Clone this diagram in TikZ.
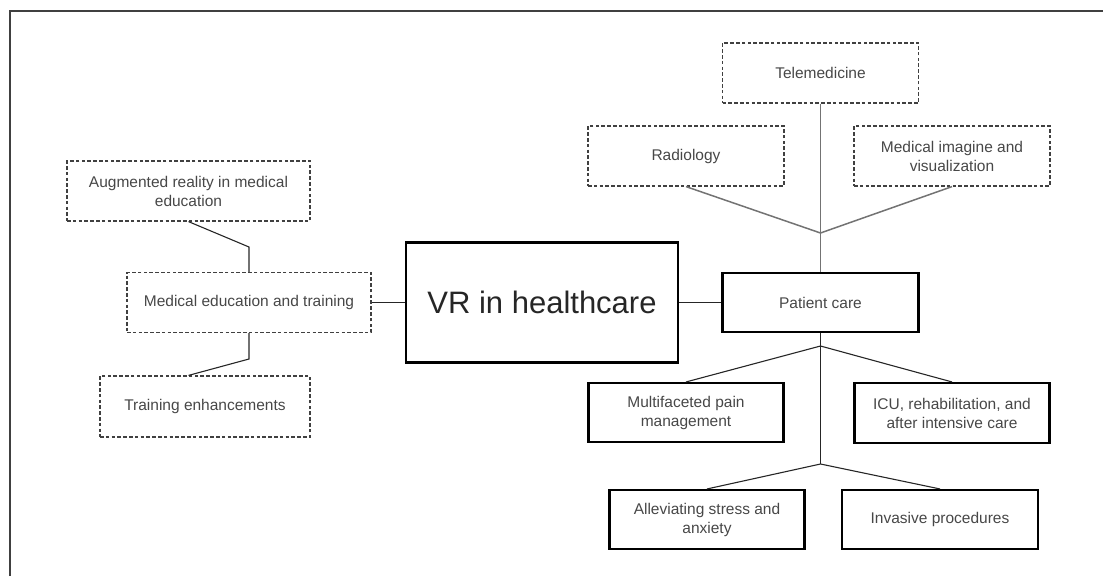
\documentclass[tikz,border=0pt]{standalone}
\usepackage{fontspec}
\setmainfont{Liberation Sans}
\usetikzlibrary{calc}
\tikzset{
  base/.style={rectangle, align=center, text=black!72, inner sep=2pt,
    font=\fontsize{15.5}{19}\selectfont},
  dbox/.style={base, draw=black!75, line width=1.2pt, dash pattern=on 3.6pt off 2.2pt},
  sbox/.style={base, draw=black, line width=2.1pt},
  conn/.style={draw=black!85, line width=1.1pt},
  gconn/.style={draw=black!55, line width=1.5pt},
}
\begin{document}
\begin{tikzpicture}[x=1pt,y=-1pt]
\useasboundingbox (0,0) rectangle (1103,576);
\draw[black!75, line width=1.6pt] (10,576) -- (10,11) -- (1103,11);

\node[dbox, minimum width=243pt, minimum height=60pt] (aug) at (188.5,191) {Augmented reality in medical\\education};
\node[dbox, minimum width=244pt, minimum height=60pt] (med) at (249,302.5) {Medical education and training};
\node[dbox, minimum width=210pt, minimum height=61pt] (train) at (205,406.5) {Training enhancements};
\node[sbox, minimum width=272pt, minimum height=120pt, line width=2.3pt, font=\fontsize{31}{37}\selectfont, text=black!85] (vr) at (542,302.5) {VR in healthcare};
\node[sbox, minimum width=196pt, minimum height=59pt] (pc) at (820.5,302.5) {Patient care};
\node[dbox, minimum width=196pt, minimum height=60pt] (tele) at (820.5,73) {Telemedicine};
\node[dbox, minimum width=196pt, minimum height=60pt] (rad) at (686,156) {Radiology};
\node[dbox, minimum width=196pt, minimum height=60pt] (mig) at (952,156) {Medical imagine and\\visualization};
\node[sbox, minimum width=195pt, minimum height=59pt] (mpm) at (686,412.5) {Multifaceted pain\\management};
\node[sbox, minimum width=195pt, minimum height=60pt] (icu) at (952,413) {ICU, rehabilitation, and\\after intensive care};
\node[sbox, minimum width=195pt, minimum height=59pt] (alle) at (707,519.5) {Alleviating stress and\\anxiety};
\node[sbox, minimum width=196pt, minimum height=59pt] (inv) at (940,519.5) {Invasive procedures};

\coordinate (jA) at (249,247);
\coordinate (jB) at (249,359);
\coordinate (jT) at (820.5,233);
\coordinate (jP1) at (820.5,346);
\coordinate (jP2) at (820.5,464);

\draw[conn] (aug.south) -- (jA) -- (med.north);
\draw[conn] (med.south) -- (jB) -- (train.north -| aug.south);
\draw[conn] (med.east) -- (vr.west);
\draw[conn] (vr.east) -- (pc.west);

\draw[gconn] (tele.south) -- (pc.north);
\draw[gconn] (rad.south) -- (jT) -- (mig.south);

\draw[conn] (pc.south) -- (jP2);
\draw[conn] (mpm.north) -- (jP1) -- (icu.north);
\draw[conn] (alle.north) -- (jP2) -- (inv.north);
\end{tikzpicture}
\end{document}
